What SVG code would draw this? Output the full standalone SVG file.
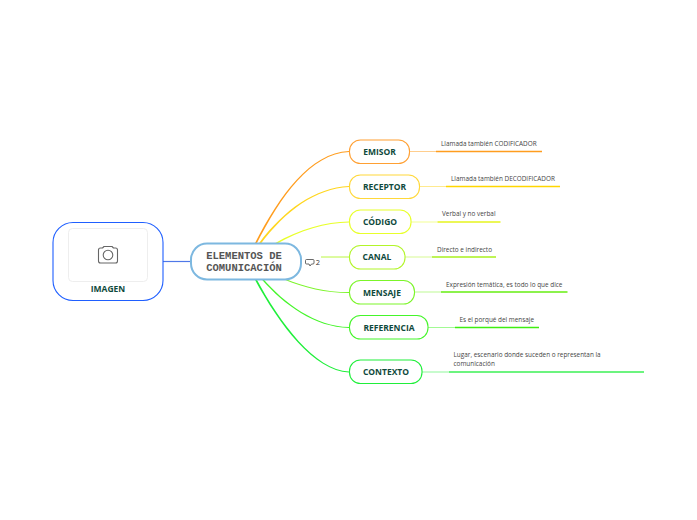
<svg xmlns="http://www.w3.org/2000/svg" width="697" height="520" viewBox="0 0 697 520">
<style>
.n{fill:#fff;stroke-width:1.1}
.t{font-family:"Open Sans","Noto Sans",sans-serif;font-weight:700;font-size:8.5px;fill:#0f4a3c;text-anchor:middle}
.d{font-family:"Open Sans","Noto Sans",sans-serif;font-size:6.4px;fill:#444}
.m{font-family:"Liberation Mono",monospace;font-weight:700;font-size:10.5px;fill:#555;text-anchor:middle}
.l{fill:none;stroke-width:1;stroke-opacity:.5}
.h{fill:none;stroke-width:1.5}
</style>
<rect width="697" height="520" fill="#fff"/>
<g id="connectors">
<path fill="none" stroke="#4f78e8" stroke-width="1.200" d="M163 261.500H191"/>
<path fill="#ff9d1e" d="M254.800 243.500C280 195 310 153 349 151.100V151.900C310.500 153.800 281 195.500 256.200 244.500Z"/>
<path fill="#ffd61f" d="M258.800 243.500C285 209 315 188 349 186.100V186.900C315.500 188.800 286 210 260.200 244.500Z"/>
<path fill="#e8ff2a" d="M274.500 243.500C300 229 325 222 349 221.600V222.400C325.500 222.800 300.500 230 275.500 244.500Z"/>
<path fill="none" stroke="#b2f52a" stroke-width=".9" d="M321 257H349"/>
<path fill="#7cf52a" d="M285 278.700C305 287 325 292 349 292.100V292.900C325 292.800 305 288 284.600 279.700Z"/>
<path fill="#45f52a" d="M262.800 278.500C285 304 315 326 349 327.100V327.900C314.800 327.200 284.300 305 261.800 279.500Z"/>
<path fill="#1fef3a" d="M256.200 278.500C280 323 315 370 349 371.600V372.400C314.500 371.500 279 324.500 254.800 279.500Z"/>
<path class="l" stroke="#ff9d1e" d="M409.500 151.500H436"/><path class="h" stroke="#ff9d1e" d="M436 151.500H542"/>
<path class="l" stroke="#ffd61f" d="M419.500 186.500H446"/><path class="h" stroke="#ffd600" d="M446 186.500H560"/>
<path class="l" stroke="#e8ff2a" d="M411 222H437.500"/><path class="h" stroke="#e6f51e" d="M437.500 222H500.500"/>
<path class="l" stroke="#b2f52a" d="M405 257H432"/><path class="h" stroke="#a8f01e" d="M432 257H496"/>
<path class="l" stroke="#7cf52a" d="M415 292H441"/><path class="h" stroke="#66ee11" d="M441 292H567.500"/>
<path class="l" stroke="#45f52a" d="M428 327.500H455"/><path class="h" stroke="#3fee11" d="M455 327.500H539"/>
<path class="l" stroke="#1fef3a" d="M422 372H449"/><path class="h" stroke="#3bf055" d="M449 372H644"/>
</g>
<g id="imagen">
<rect class="n" x="53" y="222.500" width="110" height="78" rx="20" stroke="#1f5fff"/>
<rect x="68.500" y="228.500" width="79" height="53" rx="4" fill="#fff" stroke="#eee"/>
<g fill="none" stroke="#666" stroke-width="1.100">
<path d="M100.500 248H102.500L104 246.500H112L113.500 248H115.500Q117.500 248 117.500 250V261Q117.500 263 115.500 263H100.500Q98.500 263 98.500 261V250Q98.500 248 100.500 248Z" stroke-linejoin="round"/>
<circle cx="108" cy="255" r="4.800"/>
</g>
<text class="t" x="108" y="292">IMAGEN</text>
</g>
<g id="central">
<rect class="n" x="191" y="243.500" width="110" height="36" rx="16" stroke="#7db8e0" style="stroke-width:2"/>
<text class="m" x="244" y="258.500">ELEMENTOS DE</text>
<text class="m" x="244" y="271">COMUNICACIÓN</text>
</g>
<g id="comment">
<path d="M306.500 259.500H313Q314 259.500 314 260.500V263Q314 264 313 264H311.500L310 266L309 264H306.500Q305.500 264 305.500 263V260.500Q305.500 259.500 306.500 259.500Z" fill="none" stroke="#444" stroke-width=".8"/>
<text x="315.700" y="265" font-family="'Open Sans',sans-serif" font-size="7.500" fill="#333">2</text>
</g>
<g id="emisor"><rect class="n" x="349.500" y="140" width="60" height="23.500" rx="11" stroke="#ffa033"/><text class="t" x="379.500" y="155">EMISOR</text></g>
<g id="receptor"><rect class="n" x="349.500" y="175" width="70" height="23.500" rx="11" stroke="#ffd83a"/><text class="t" x="384.500" y="190">RECEPTOR</text></g>
<g id="codigo"><rect class="n" x="349.500" y="210" width="61.500" height="23.500" rx="11" stroke="#e8ff2a"/><text class="t" x="380" y="225">CÓDIGO</text></g>
<g id="canal"><rect class="n" x="349.500" y="245.500" width="55.500" height="23.500" rx="11" stroke="#b2f52a"/><text class="t" x="377" y="260">CANAL</text></g>
<g id="mensaje"><rect class="n" x="349.500" y="280.500" width="65" height="23.500" rx="11" stroke="#7cf52a"/><text class="t" x="382" y="296">MENSAJE</text></g>
<g id="referencia"><rect class="n" x="349.500" y="315.500" width="78.500" height="23.500" rx="11" stroke="#45f52a"/><text class="t" x="389" y="331">REFERENCIA</text></g>
<g id="contexto"><rect class="n" x="349.500" y="360" width="72.500" height="23.500" rx="11" stroke="#1fef3a"/><text class="t" x="386" y="375">CONTEXTO</text></g>
<g id="desc">
<text class="d" x="441" y="146">Llamada también CODIFICADOR</text>
<text class="d" x="451" y="181">Llamada también DECODIFICADOR</text>
<text class="d" x="442" y="216">Verbal y no verbal</text>
<text class="d" x="437" y="252">Directo e indirecto</text>
<text class="d" x="446" y="287">Expresión temática, es todo lo que dice</text>
<text class="d" x="459.500" y="322">Es el porqué del mensaje</text>
<text class="d" x="453.500" y="357">Lugar, escenario donde suceden o representan la</text>
<text class="d" x="453.500" y="366">comunicación</text>
</g>
</svg>
